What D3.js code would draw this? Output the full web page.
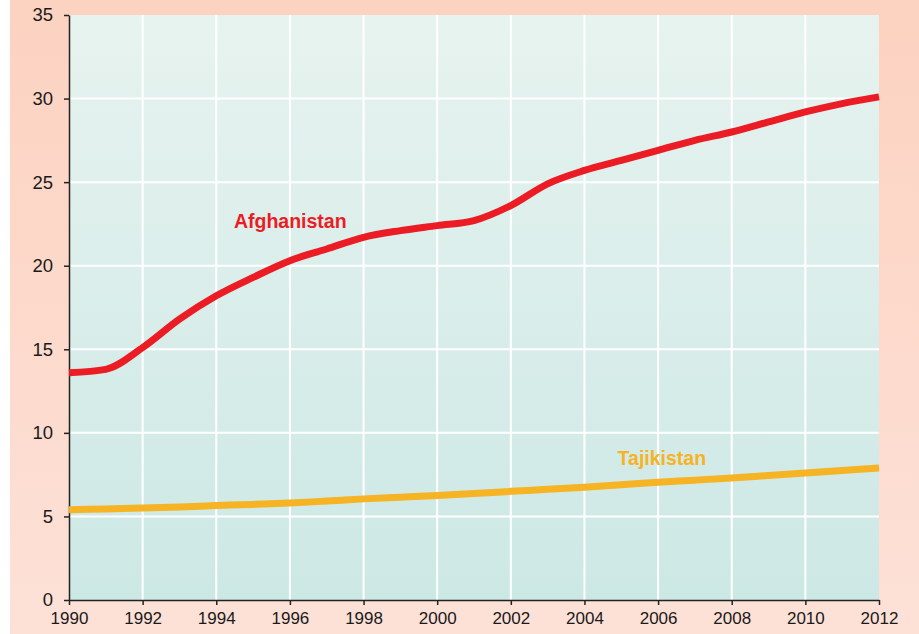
<!DOCTYPE html>
<meta charset="utf-8">
<style>
  body { margin: 0; background: #fff; }
  text { font-family: "Liberation Sans", Arial, sans-serif; }
</style>
<body>
<svg id="chart" width="919" height="634"></svg>
<script src="https://d3js.org/d3.v7.min.js"></script>
<script>
  const years = d3.range(1990, 2013);
  const afghanistan = [13.6, 13.8, 15.1, 16.8, 18.2, 19.3, 20.3, 21.0, 21.7, 22.1, 22.4, 22.7, 23.6, 24.9, 25.7, 26.3, 26.9, 27.5, 28.0, 28.6, 29.2, 29.7, 30.1];
  const tajikistan = [5.4, 5.45, 5.5, 5.57, 5.65, 5.72, 5.8, 5.92, 6.05, 6.15, 6.25, 6.37, 6.5, 6.62, 6.75, 6.9, 7.05, 7.17, 7.3, 7.45, 7.6, 7.75, 7.9];
  const xTicks = d3.range(1990, 2013, 2);
  const yTicks = d3.range(0, 36, 5);

  const svg = d3.select("#chart");
  const margin = {top: 15, right: 40, bottom: 34, left: 69};
  const width = 919 - margin.left - margin.right;
  const height = 634 - margin.top - margin.bottom;

  const defs = svg.append("defs");
  const bgGrad = defs.append("linearGradient").attr("id", "bg").attr("x1", 0).attr("x2", 0).attr("y1", 0).attr("y2", 1);
  bgGrad.append("stop").attr("offset", "0%").attr("stop-color", "#fcd2c0");
  bgGrad.append("stop").attr("offset", "100%").attr("stop-color", "#fde1d7");
  const plotGrad = defs.append("linearGradient").attr("id", "plot").attr("x1", 0).attr("x2", 0).attr("y1", 0).attr("y2", 1);
  plotGrad.append("stop").attr("offset", "0%").attr("stop-color", "#e7f3ef");
  plotGrad.append("stop").attr("offset", "100%").attr("stop-color", "#cce8e5");

  svg.append("rect").attr("x", 10).attr("y", 0).attr("width", 909).attr("height", 634).attr("fill", "url(#bg)");

  const g = svg.append("g").attr("transform", `translate(${margin.left},${margin.top})`);

  const x = d3.scaleLinear().domain([1990, 2012]).range([0, width]);
  const y = d3.scaleLinear().domain([0, 35]).range([height, 0]);

  g.append("rect").attr("width", width).attr("height", height).attr("fill", "url(#plot)");

  // grid
  g.append("g").selectAll("line").data(xTicks.slice(1, -1)).join("line")
    .attr("x1", d => x(d)).attr("x2", d => x(d)).attr("y1", 0).attr("y2", height)
    .attr("stroke", "#fff").attr("stroke-width", 2);
  g.append("g").selectAll("line").data(yTicks.slice(1, -1)).join("line")
    .attr("y1", d => y(d)).attr("y2", d => y(d)).attr("x1", 0).attr("x2", width)
    .attr("stroke", "#fff").attr("stroke-width", 2);

  // axes
  const xAxis = g.append("g").attr("transform", `translate(0,${height})`)
    .call(d3.axisBottom(x).tickValues(xTicks).tickFormat(d3.format("d")).tickSize(5).tickSizeOuter(0));
  const yAxis = g.append("g")
    .call(d3.axisLeft(y).tickValues(yTicks).tickSize(5).tickSizeOuter(0));
  [xAxis, yAxis].forEach(a => {
    a.select(".domain").attr("stroke", "#222").attr("stroke-width", 1.5);
    a.selectAll(".tick line").attr("stroke", "#222").attr("stroke-width", 1.5);
    a.selectAll("text").attr("fill", "#1a1a1a").style("font-family", "Liberation Sans, Arial, sans-serif");
  });
  xAxis.selectAll("text").attr("dy", "0.95em").style("font-size", "17px");
  yAxis.selectAll("text").attr("x", -16).style("font-size", "18.5px");

  const line = d3.line().x((d, i) => x(years[i])).y(d => y(d)).curve(d3.curveMonotoneX);

  g.append("path").datum(tajikistan).attr("d", line)
    .attr("fill", "none").attr("stroke", "#f6b323").attr("stroke-width", 7);
  g.append("path").datum(afghanistan).attr("d", line)
    .attr("fill", "none").attr("stroke", "#ec1c24").attr("stroke-width", 7);

  g.append("text").attr("x", x(1994.48)).attr("y", y(22.25)).text("Afghanistan")
    .attr("fill", "#ec1c24").style("font-weight", "bold").style("font-size", "19.5px");
  g.append("text").attr("x", x(2004.9)).attr("y", y(8.08)).text("Tajikistan")
    .attr("fill", "#f6b323").style("font-weight", "bold").style("font-size", "19.5px");
</script>
